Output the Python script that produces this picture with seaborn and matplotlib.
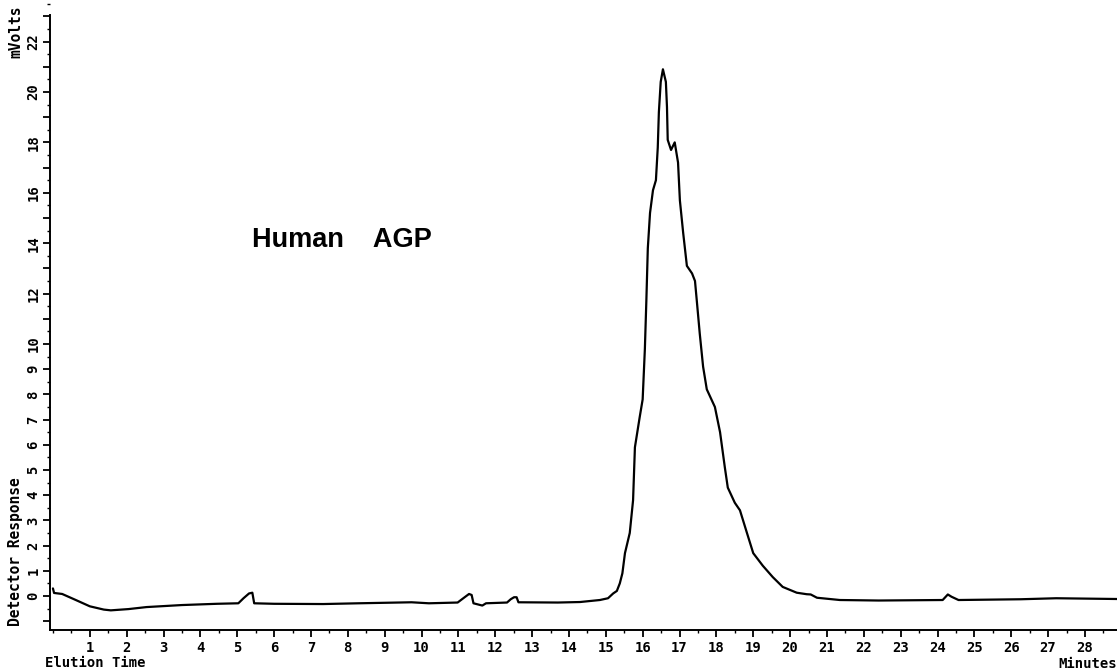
import numpy as np
import pandas as pd
import matplotlib
matplotlib.use("Agg")
import matplotlib.pyplot as plt
from matplotlib.ticker import FixedLocator, MultipleLocator
import seaborn as sns

# --- chromatogram trace ---
elution_min = [
    0.0, 0.03, 0.25, 0.62, 1.0, 1.38, 1.57, 2.05, 2.54, 3.5, 4.45, 5.03,
    5.17, 5.32, 5.41, 5.46, 6.0, 7.33, 8.29, 9.73, 10.2, 10.98,
    11.17, 11.29, 11.36, 11.41, 11.65, 11.75, 12.32, 12.42, 12.51, 12.58, 12.63,
    13.7, 14.3, 14.84, 15.06, 15.2, 15.3, 15.38, 15.45, 15.52, 15.65, 15.74,
    15.79, 15.92, 16.0, 16.06, 16.1, 16.14, 16.2, 16.28, 16.36, 16.41, 16.44,
    16.49, 16.55, 16.63, 16.66, 16.68, 16.77, 16.87, 16.96, 17.01, 17.1, 17.2,
    17.34, 17.42, 17.47, 17.55, 17.64, 17.74, 17.96, 18.1, 18.23, 18.31, 18.5,
    18.64, 18.83, 19.0, 19.26, 19.53, 19.8, 20.18, 20.45, 20.56, 20.73, 21.35,
    22.4, 24.14, 24.28, 24.38, 24.57, 26.26, 27.22, 28.87,
]
response_mv = [
    0.30, 0.12, 0.08, -0.16, -0.41, -0.54, -0.57, -0.52, -0.44, -0.36, -0.31, -0.29,
    -0.09, 0.10, 0.13, -0.29, -0.31, -0.32, -0.29, -0.25, -0.29, -0.26,
    -0.05, 0.08, 0.04, -0.29, -0.38, -0.29, -0.26, -0.13, -0.05, -0.05, -0.25,
    -0.26, -0.24, -0.16, -0.09, 0.1, 0.2, 0.5, 0.9, 1.7, 2.5, 3.8,
    5.9, 7.1, 7.8, 9.8, 11.7, 13.8, 15.2, 16.1, 16.5, 17.8, 19.2,
    20.4, 20.9, 20.4, 19.4, 18.1, 17.7, 18.0, 17.2, 15.7, 14.4, 13.1,
    12.8, 12.5, 11.7, 10.4, 9.1, 8.2, 7.5, 6.5, 5.1, 4.3, 3.7,
    3.4, 2.5, 1.7, 1.2, 0.75, 0.36, 0.13, 0.07, 0.06, -0.07, -0.16,
    -0.18, -0.16, 0.06, -0.03, -0.16, -0.13, -0.09, -0.12,
]

y_ticks = list(range(-1, 24))
y_labels = [str(v) if (0 <= v <= 10 or (v > 10 and v % 2 == 0 and v <= 22)) else ""
            for v in y_ticks]
x_ticks = list(range(1, 29))

trace = pd.DataFrame({"t": elution_min, "mv": response_mv})

sns.set_theme(style="ticks")
plt.rcParams["font.family"] = ["DejaVu Sans Mono", "DejaVu Sans"]
plt.rcParams["font.weight"] = "bold"
plt.rcParams["text.color"] = "black"
plt.rcParams["xtick.color"] = "black"
plt.rcParams["ytick.color"] = "black"
plt.rcParams["xtick.labelcolor"] = "black"
plt.rcParams["ytick.labelcolor"] = "black"

fig = plt.figure(figsize=(11.17, 6.71), dpi=100)
ax = fig.add_axes([50 / 1117, 1 - 630 / 671, 1 - 50 / 1117, 630 / 671])

sns.lineplot(data=trace, x="t", y="mv", ax=ax, color="black", lw=1.6,
             estimator=None, sort=False)

ax.set_xlim(-0.08, 28.87)
ax.set_ylim(-1.35, 23.65)
ax.set_xlabel("")
ax.set_ylabel("")

for side in ["top", "right"]:
    ax.spines[side].set_visible(False)
for side in ["left", "bottom"]:
    ax.spines[side].set_color("black")
    ax.spines[side].set_linewidth(1.4)
ax.spines["left"].set_bounds(-1.35, 23.05)

ax.xaxis.set_major_locator(FixedLocator(x_ticks))
ax.set_xticklabels([str(v) for v in x_ticks])
ax.xaxis.set_minor_locator(MultipleLocator(0.5))
ax.yaxis.set_major_locator(FixedLocator(y_ticks))
ax.set_yticklabels(y_labels)
ax.yaxis.set_minor_locator(MultipleLocator(0.5))

ax.tick_params(axis="x", which="major", direction="out", length=5, width=1.3,
               color="black", labelsize=10, pad=3)
ax.tick_params(axis="x", which="minor", direction="out", length=2, width=1,
               color="black")
ax.tick_params(axis="y", which="major", direction="out", length=5, width=1.3,
               color="black", labelsize=10, pad=2, labelrotation=90)
ax.tick_params(axis="y", which="minor", direction="out", length=2, width=1,
               color="black")
for lab in ax.get_yticklabels():
    lab.set_verticalalignment("center")
for lab in ax.get_xticklabels() + ax.get_yticklabels():
    lab.set_fontweight("bold")

fig.text(45 / 1117, 1 - 663 / 671, "Elution Time", ha="left", va="center",
         fontsize=10, fontweight="bold", color="black")
fig.text(1117 / 1117, 1 - 664 / 671, "Minutes", ha="right", va="center",
         fontsize=10, fontweight="bold", color="black")
fig.text(16 / 1117, 1 - 552 / 671, "Detector Response", rotation=90,
         ha="center", va="center", fontsize=10.5, fontweight="bold", color="black")
fig.text(16 / 1117, 1 - 32 / 671, "mVolts", rotation=90,
         ha="center", va="center", fontsize=10.5, fontweight="bold", color="black")

fig.text(252 / 1117, 1 - 247 / 671, "Human    AGP", ha="left", va="baseline",
         fontsize=19.5, fontweight="bold", color="black",
         family=["Liberation Sans", "DejaVu Sans"])

fig.savefig("out.png", dpi=100, facecolor="white")
